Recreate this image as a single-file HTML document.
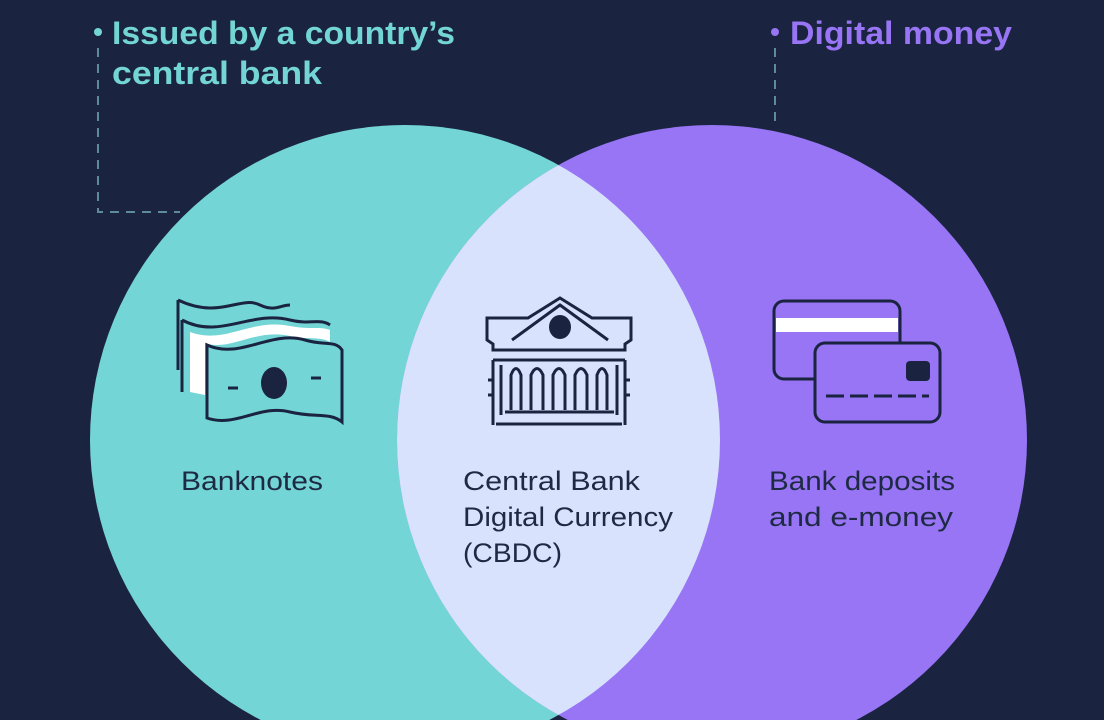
<!DOCTYPE html>
<html><head><meta charset="utf-8"><style>
html,body{margin:0;padding:0;background:#1a2440;}
svg{display:block}
text{font-family:"Liberation Sans",sans-serif;}
</style></head><body>
<svg width="1104" height="720" viewBox="0 0 1104 720" xmlns="http://www.w3.org/2000/svg">
<defs>
<clipPath id="lc"><circle cx="405" cy="440" r="315"/></clipPath>
</defs>
<rect width="1104" height="720" fill="#1a2440"/>
<circle cx="405" cy="440" r="315" fill="#74d5d6"/>
<circle cx="712" cy="440" r="315" fill="#9775f4"/>
<circle cx="712" cy="440" r="315" fill="#d8e2fc" clip-path="url(#lc)"/>

<path d="M98 48 V212 H180" fill="none" stroke="#5e8b9c" stroke-width="2" stroke-dasharray="9 7"/>
<path d="M775 48 V128" fill="none" stroke="#5e8b9c" stroke-width="2" stroke-dasharray="9 7"/>
<circle cx="98" cy="32" r="4" fill="#74d5d6"/>
<circle cx="775" cy="32" r="4" fill="#9775f4"/>

<g font-weight="bold" font-size="32">
<text x="112" y="44" fill="#74d5d6" textLength="343" lengthAdjust="spacingAndGlyphs">Issued by a country’s</text>
<text x="112" y="84" fill="#74d5d6" textLength="210" lengthAdjust="spacingAndGlyphs">central bank</text>
<text x="790" y="44" fill="#9775f4" textLength="222" lengthAdjust="spacingAndGlyphs">Digital money</text>
</g>

<g font-size="27" fill="#1e2a44">
<text x="181" y="490" textLength="142" lengthAdjust="spacingAndGlyphs">Banknotes</text>
<text x="463" y="490" textLength="177" lengthAdjust="spacingAndGlyphs">Central Bank</text>
<text x="463" y="526" textLength="210" lengthAdjust="spacingAndGlyphs">Digital Currency</text>
<text x="463" y="562" textLength="99" lengthAdjust="spacingAndGlyphs">(CBDC)</text>
<text x="769" y="490" textLength="186" lengthAdjust="spacingAndGlyphs">Bank deposits</text>
<text x="769" y="526" textLength="184" lengthAdjust="spacingAndGlyphs">and e-money</text>
</g>

<g fill="none" stroke="#1a2440" stroke-width="3">
<path d="M178 300 V370 M178 300 C220 320 240 295 260 305 C275 312 280 305 290 305"/>
<path d="M182 320 V392 M182 320 C220 340 250 310 290 320 C310 325 320 318 330 325"/>
</g>
<path d="M190 332 C225 345 250 318 290 326 C310 330 320 326 330 330 L330 342 C320 336 305 340 290 336 C255 328 230 352 205 343 L205 395 L190 392 Z" fill="#ffffff"/>
<path d="M207 345 C240 360 270 330 305 340 C325 346 335 340 342 350 V422 C330 412 315 418 290 412 C260 404 235 428 207 418 Z" fill="#74d5d6" stroke="#1a2440" stroke-width="3"/>
<ellipse cx="274" cy="383" rx="13" ry="16" fill="#1a2440"/>
<path d="M228 388 H238 M311 378 H321" stroke="#1a2440" stroke-width="3"/>

<g fill="none" stroke="#1a2440" stroke-width="3">
<path d="M487 318 H528 L560 298 L592 318 H631 V340 L625 344 V350 H493 V344 L487 340 Z"/>
<path d="M512 340 L560 305 L608 340"/>
<path d="M493 350 H625"/>
<path d="M493 360 V425 M625 360 V425 M493 360 H625"/>
<path d="M501 365 V415 M617 365 V415"/>
<path d="M511 410 V375 Q516 362 521 375 V410 M531 410 V375 Q537 362 543 375 V410 M553 410 V375 Q559 362 565 375 V410 M575 410 V375 Q581 362 587 375 V410 M597 410 V375 Q602 362 607 375 V410"/>
<path d="M505 412 H614 M496 424 H622"/>
<path d="M493 380 H488 M493 395 H488 M625 380 H630 M625 395 H630"/>
</g>
<ellipse cx="560" cy="327" rx="11" ry="12" fill="#1a2440"/>

<rect x="774" y="301" width="126" height="78" rx="10" fill="#9775f4" stroke="#1a2440" stroke-width="3"/>
<rect x="776" y="318" width="122" height="14" fill="#ffffff"/>
<rect x="815" y="343" width="125" height="79" rx="10" fill="#9775f4" stroke="#1a2440" stroke-width="3"/>
<rect x="906" y="361" width="24" height="20" rx="4" fill="#1a2440"/>
<path d="M826 396 H929" stroke="#1a2440" stroke-width="3" stroke-dasharray="18 6"/>
</svg>
</body></html>
